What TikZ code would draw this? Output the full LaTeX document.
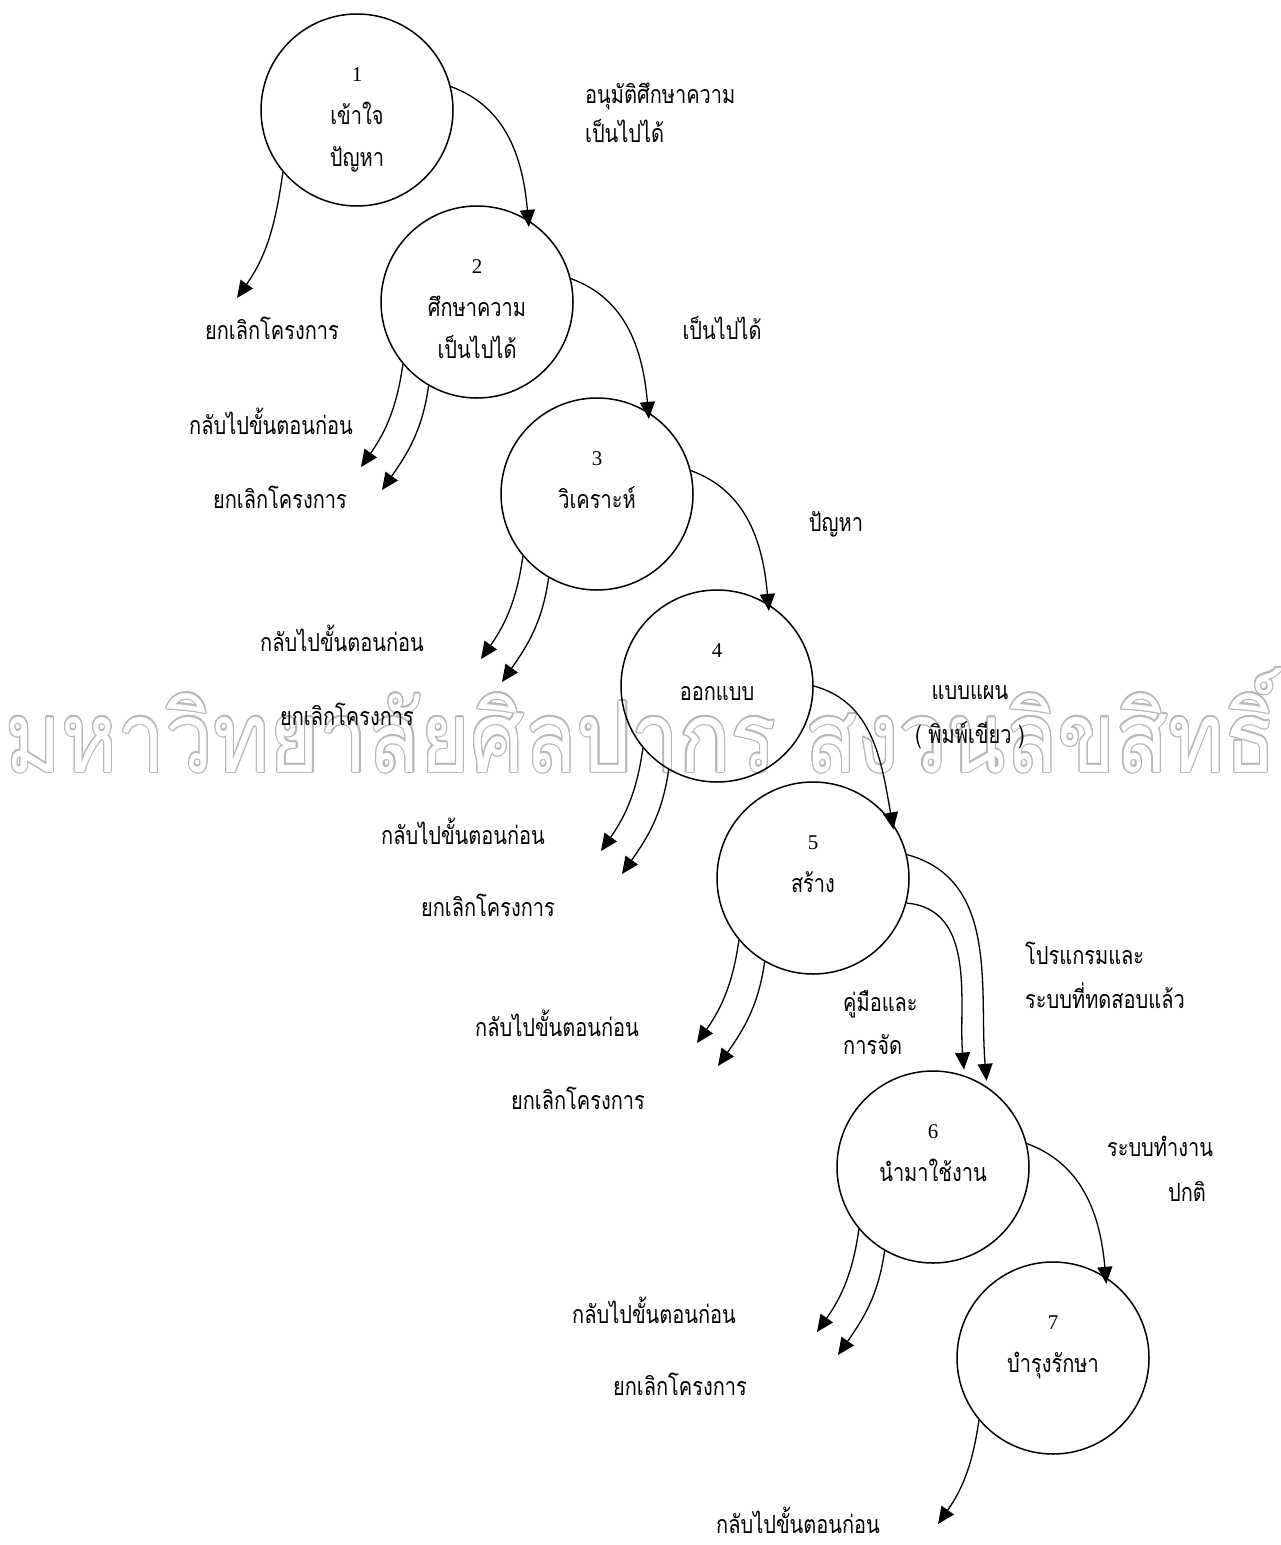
\documentclass[tikz,border=0pt]{standalone}
\usepackage{fontspec}
\setmainfont{Liberation Serif}
\newfontfamily\thai[Script=Thai, FakeStretch=0.8]{Loma}
\newfontfamily\wmfont[Script=Thai, FakeStretch=0.6]{Loma}
\usetikzlibrary{arrows.meta}
\newcommand{\wmtext}{\resizebox{1270pt}{104pt}{\wmfont มหาวิทยาลัยศิลปากร\ สงวนลิขสิทธิ์}}
\begin{document}
\begin{tikzpicture}[x=1pt,y=1pt,
 proc/.style={draw, circle, minimum size=192pt, inner sep=0pt, line width=1.5pt},
 flow/.style={line width=1.3pt, -{Triangle[length=17pt,width=15pt]}, shorten >=-7pt},
 back/.style={line width=1.3pt, -{Triangle[length=17pt,width=15pt]}},
 lbl/.style={font=\thai\fontsize{25}{29}\selectfont, inner sep=0pt, anchor=base},
 lblw/.style={lbl, anchor=base west},
 num/.style={font=\fontsize{21}{25}\selectfont, inner sep=0pt, anchor=base},
]
\useasboundingbox (0,0) rectangle (1281,-1545);
% watermark
\foreach \a in {0,22.5,...,337.5}
  \node[text=black!28, inner sep=0pt, anchor=base west] (wm\a) at ([shift={(\a:1.2)}]5,-772) {\wmtext};
\node[text=white, inner sep=0pt, anchor=base west] (wm) at (5,-772) {\wmtext};
% circles
\node[proc] (c1) at (357,-110) {};
\node[proc] (c2) at (477,-302) {};
\node[proc] (c3) at (597,-494) {};
\node[proc] (c4) at (717,-686) {};
\node[proc] (c5) at (813,-878) {};
\node[proc] (c6) at (933,-1167) {};
\node[proc] (c7) at (1053,-1358) {};
% circle texts
\node[num] (n1) at ([yshift=29pt]c1.center) {1};
\node[lbl] (t1a) at ([yshift=-14pt]c1.center) {เข้าใจ};
\node[lbl] (t1b) at ([yshift=-56pt]c1.center) {ปัญหา};
\node[num] (n2) at ([yshift=29pt]c2.center) {2};
\node[lbl] (t2a) at ([yshift=-14pt]c2.center) {ศึกษาความ};
\node[lbl] (t2b) at ([yshift=-56pt]c2.center) {เป็นไปได้};
\node[num] (n3) at ([yshift=29pt]c3.center) {3};
\node[lbl] (t3a) at ([yshift=-14pt]c3.center) {วิเคราะห์};
\node[num] (n4) at ([yshift=29pt]c4.center) {4};
\node[lbl] (t4a) at ([yshift=-14pt]c4.center) {ออกแบบ};
\node[num] (n5) at ([yshift=29pt]c5.center) {5};
\node[lbl] (t5a) at ([yshift=-14pt]c5.center) {สร้าง};
\node[num] (n6) at ([yshift=29pt]c6.center) {6};
\node[lbl] (t6a) at ([yshift=-14pt]c6.center) {นำมาใช้งาน};
\node[num] (n7) at ([yshift=29pt]c7.center) {7};
\node[lbl] (t7a) at ([yshift=-14pt]c7.center) {บำรุงรักษา};
% forward flows
\draw[flow] (c1.14) to[out=-20,in=95] (c2.58);
\draw[flow] (c2.14) to[out=-20,in=95] (c3.58);
\draw[flow] (c3.14) to[out=-20,in=95] (c4.58);
\draw[flow] (c4.0) to[out=-15,in=100] (c5.35);
\draw[flow, shorten >=6pt] (c5.14) to[out=-15,in=95] (c6.56);
\draw[flow, shorten >=6pt] (c5.-15) to[out=-5,in=95] (c6.71);
\draw[flow] (c6.14) to[out=-20,in=95] (c7.57);
% backward / cancel flows
\coordinate (r1) at ([shift={(-120,-188)}]c1.center);
\draw[back] (c1.220) to[out=-98,in=55] (r1);
\foreach \c in {2,3,4,5,6}{
  \coordinate (ra\c) at ([shift={(-116,-165)}]c\c.center);
  \coordinate (rb\c) at ([shift={(-95,-188)}]c\c.center);
  \draw[back] (c\c.220) to[out=-98,in=55] (ra\c);
  \draw[back] (c\c.240) to[out=-98,in=55] (rb\c);
}
\coordinate (r7) at ([shift={(-115,-166)}]c7.center);
\draw[back] (c7.220) to[out=-98,in=55] (r7);
% outside labels
\node[lbl] (l1) at (272,-339) {ยกเลิกโครงการ};
\node[lbl] (l2a) at (271,-434) {กลับไปขั้นตอนก่อน};
\node[lbl] (l2b) at (280,-508) {ยกเลิกโครงการ};
\node[lbl] (l3a) at (342,-651) {กลับไปขั้นตอนก่อน};
\node[lbl] (l3b) at (347,-725) {ยกเลิกโครงการ};
\node[lbl] (l4a) at (463,-844) {กลับไปขั้นตอนก่อน};
\node[lbl] (l4b) at (488,-916) {ยกเลิกโครงการ};
\node[lbl] (l5a) at (557,-1036) {กลับไปขั้นตอนก่อน};
\node[lbl] (l5b) at (578,-1109) {ยกเลิกโครงการ};
\node[lbl] (l6a) at (654,-1323) {กลับไปขั้นตอนก่อน};
\node[lbl] (l6b) at (680,-1395) {ยกเลิกโครงการ};
\node[lbl] (l7a) at (798,-1533) {กลับไปขั้นตอนก่อน};
\node[lblw] (f1a) at (585,-103) {อนุมัติศึกษาความ};
\node[lblw] (f1b) at (585,-142) {เป็นไปได้};
\node[lbl] (f2) at (722,-339) {เป็นไปได้};
\node[lbl] (f3) at (836,-531) {ปัญหา};
\node[lbl] (f4a) at (970,-699) {แบบแผน};
\node[lbl] (f4b) at (970,-743) {( พิมพ์เขียว )};
\node[lblw] (f5a) at (843,-1011) {คู่มือและ};
\node[lblw] (f5b) at (843,-1054) {การจัด};
\node[lblw] (f6a) at (1025,-964) {โปรแกรมและ};
\node[lblw] (f6b) at (1025,-1008) {ระบบที่ทดสอบแล้ว};
\node[lbl] (f7a) at (1160,-1156) {ระบบทำงาน};
\node[lbl] (f7b) at (1187,-1201) {ปกติ};
\end{tikzpicture}
\end{document}
